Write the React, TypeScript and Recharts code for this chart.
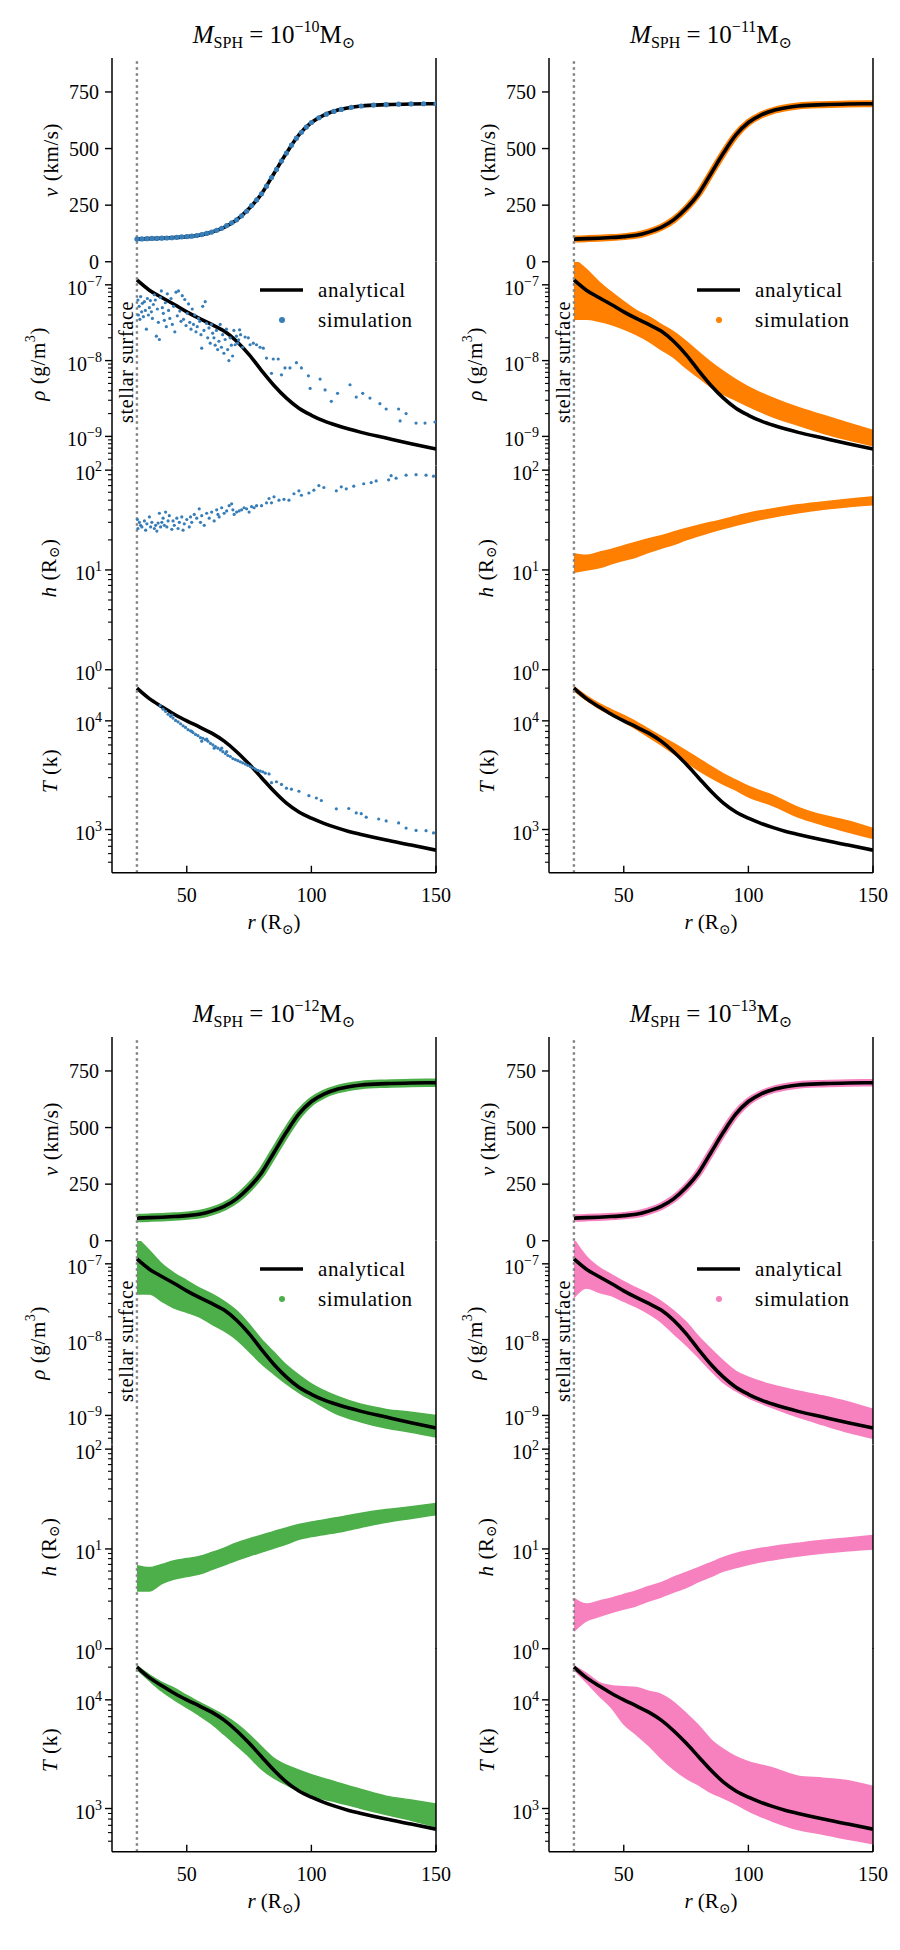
import React from 'react';
import { ComposedChart, Line, Area, Scatter, XAxis, YAxis, ReferenceLine } from 'recharts';

const FONT = "'Liberation Serif', 'DejaVu Serif', 'Times New Roman', serif";

// ---------- shared axis values ----------
const X_DOMAIN: [number, number] = [20, 150];
const X_TICKS = [50, 100, 150];
const R_SURFACE = 30;

const V_DOMAIN: [number, number] = [0, 900];
const V_TICKS = [0, 250, 500, 750];
const RHO_DOMAIN: [number, number] = [4.1e-10, 2e-7];
const RHO_TICKS = [5e-10, 6e-10, 7e-10, 8e-10, 9e-10, 1e-9, 2e-9, 3e-9, 4e-9, 5e-9, 6e-9, 7e-9, 8e-9, 9e-9,
  1e-8, 2e-8, 3e-8, 4e-8, 5e-8, 6e-8, 7e-8, 8e-8, 9e-8, 1e-7];
const H_DOMAIN: [number, number] = [1, 110];
const H_TICKS = [1, 2, 3, 4, 5, 6, 7, 8, 9, 10, 20, 30, 40, 50, 60, 70, 80, 90, 100];
const T_DOMAIN: [number, number] = [400, 3e4];
const T_TICKS = [500, 600, 700, 800, 900, 1000, 2000, 3000, 4000, 5000, 6000, 7000, 8000, 9000, 10000, 20000];

// ---------- analytical wind profile ----------
const R_ANA = [30, 35, 40, 45, 50, 55, 60, 65, 70, 75, 80, 85, 90, 95, 100, 105, 110, 115, 120, 130, 140, 150];
const V_ANA = [100, 102, 104, 107, 111, 117, 131, 152, 185, 235, 300, 390, 480, 560, 615, 648, 668, 680, 688, 694, 697, 698];
const RHO_ANA = [1.16e-7, 8.5e-8, 6.8e-8, 5.5e-8, 4.4e-8, 3.6e-8, 3.0e-8, 2.45e-8, 1.8e-8, 1.2e-8, 7.4e-9, 4.7e-9,
  3.2e-9, 2.35e-9, 1.9e-9, 1.6e-9, 1.4e-9, 1.25e-9, 1.13e-9, 9.5e-10, 8.0e-10, 6.8e-10];
const T_ANA = [20000, 16000, 13500, 11500, 10000, 8800, 7700, 6500, 5200, 4000, 3000, 2250, 1750, 1450, 1270, 1140,
  1040, 960, 900, 800, 720, 645];

// ---------- runs ----------
const MASS_EXP = [-10, -11, -12, -13];
const RUN_COLORS = ['#377eb8', '#ff7f00', '#4daf4a', '#f781bf'];
const LEGEND_LABELS = ['analytical', 'simulation'];

type Pair = [number, number];

// M_SPH = 1e-10: individual particles
const V_SIM_10: Pair[] = [
  [30, 100], [32, 101], [34, 102], [36, 103], [38, 103], [40, 104], [42, 105], [44, 106], [46, 108], [48, 110],
  [50, 111], [52, 113], [54, 116], [56, 120], [58, 125], [60, 131], [62, 139], [64, 148], [66, 160], [68, 172],
  [70, 185], [72, 203], [74, 223], [76, 248], [78, 273], [80, 300], [82, 334], [84, 372], [86, 408], [88, 445],
  [90, 480], [92, 515], [94, 546], [96, 572], [98, 595], [100, 615], [103, 636], [106, 652], [109, 664], [112, 673],
  [116, 682], [120, 688], [125, 692], [130, 694], [135, 696], [140, 697], [145, 698], [150, 698],
];
const RHO_SIM_10: Pair[] = [
  [30.4, 6.3e-8], [30.6, 4.0e-8], [30.9, 5.2e-8], [31.2, 3.5e-8], [31.5, 7.0e-8], [31.9, 4.4e-8], [32.2, 5.7e-8],
  [32.6, 3.8e-8], [33.0, 6.0e-8], [33.4, 4.6e-8], [33.8, 2.6e-8], [34.2, 6.6e-8], [34.6, 4.0e-8], [35.0, 5.0e-8],
  [35.4, 6.2e-8], [35.8, 4.4e-8], [36.2, 3.6e-8], [36.6, 5.5e-8], [37.0, 7.4e-8], [37.4, 6.3e-8], [37.8, 2.1e-8],
  [38.2, 4.8e-8], [38.6, 3.2e-8], [39.0, 1.9e-8], [39.4, 6.8e-8], [39.8, 8.3e-8], [40.2, 5.0e-8], [40.6, 4.2e-8],
  [41.0, 3.4e-8], [41.4, 5.8e-8], [41.8, 2.8e-8], [42.2, 7.6e-8], [42.7, 4.6e-8], [43.2, 3.6e-8], [43.7, 6.6e-8],
  [44.2, 3.0e-8], [44.7, 5.2e-8], [45.2, 2.4e-8], [45.7, 8.0e-8], [46.2, 3.9e-8], [46.7, 8.3e-8], [47.2, 4.5e-8],
  [47.7, 3.3e-8], [48.2, 7.2e-8], [48.7, 3.5e-8], [49.2, 6.4e-8], [49.7, 2.9e-8], [50.2, 4.2e-8], [50.7, 5.6e-8],
  [51.2, 3.2e-8], [51.7, 2.6e-8], [52.2, 4.8e-8], [52.7, 3.0e-8], [53.2, 4.0e-8], [53.7, 2.4e-8], [54.2, 2.8e-8],
  [54.7, 3.6e-8], [55.2, 3.3e-8], [55.7, 2.2e-8], [56.0, 1.46e-8], [56.4, 5.2e-8], [56.9, 2.5e-8], [57.4, 6.0e-8],
  [57.9, 3.1e-8], [58.4, 2.0e-8], [58.9, 2.7e-8], [59.4, 1.7e-8], [59.9, 3.0e-8], [60.4, 2.3e-8], [60.9, 2.0e-8],
  [61.4, 1.6e-8], [61.9, 2.5e-8], [62.4, 1.4e-8], [62.9, 1.8e-8], [63.4, 3.0e-8], [63.9, 1.5e-8], [64.4, 2.2e-8],
  [64.9, 1.25e-8], [65.4, 1.9e-8], [65.9, 2.6e-8], [66.4, 1.4e-8], [66.9, 1.0e-8], [67.4, 2.0e-8], [67.9, 1.6e-8],
  [68.4, 1.15e-8], [68.9, 2.5e-8], [69.4, 1.62e-8], [69.9, 2.1e-8], [70.4, 1.7e-8], [70.8, 1.88e-8], [71.2, 2.55e-8],
  [71.6, 2.2e-8], [72.4, 1.5e-8], [73.4, 2.05e-8], [74.7, 2.0e-8], [75.4, 1.62e-8], [76.7, 1.7e-8], [78.0, 1.62e-8],
  [79.4, 1.5e-8], [80.7, 1.46e-8], [82.0, 1.08e-8], [84.0, 6.8e-9], [84.7, 1.05e-8], [86.7, 1.05e-8], [88.0, 6.5e-9],
  [89.4, 8.0e-9], [91.4, 8.0e-9], [94.0, 9.4e-9], [96.0, 8.0e-9], [98.8, 6.3e-9], [99.5, 4.3e-9], [103.5, 5.7e-9],
  [105.5, 4.1e-9], [108.0, 2.9e-9], [110.5, 3.7e-9], [115.5, 4.8e-9], [118.0, 3.3e-9], [120.6, 3.7e-9],
  [123.5, 3.2e-9], [127.5, 2.7e-9], [130.0, 2.3e-9], [135.0, 2.3e-9], [135.6, 1.6e-9], [138.0, 2.0e-9],
  [142.0, 1.5e-9], [145.6, 1.5e-9], [149.6, 1.55e-9],
];
const H_SIM_10: Pair[] = [
  [30.2, 32], [30.4, 26], [31, 30], [31.5, 28], [32, 27], [33, 31], [33.5, 25], [34, 29], [35, 34], [35.5, 27],
  [36, 30], [37, 26], [37.5, 28], [38, 24.5], [38.5, 29.5], [39, 37], [39.5, 27], [40, 30], [40.5, 33], [41, 28],
  [41.5, 38], [42, 27], [42.5, 31], [43, 35], [44, 25.5], [44.5, 31], [45, 28], [46, 33], [46.5, 26], [47, 30],
  [48, 34], [48.5, 25], [49, 29], [50, 32], [51, 27], [51.5, 34], [52, 30], [53, 36], [54, 33], [55, 41],
  [55.5, 30], [56, 35], [57, 28], [58, 37], [59, 33], [60, 38], [61, 31], [62, 40], [62.5, 36], [63, 34],
  [64, 42], [65, 37], [66, 39], [67, 44], [68, 46], [68.5, 40], [69, 36], [70, 38], [71, 39], [72, 40],
  [73, 42], [74, 41], [75, 38], [76, 43], [77, 42], [78, 44], [80, 44], [82, 47], [83, 52], [84, 47],
  [85, 54], [87, 50], [89, 51], [91, 50], [93, 58], [95, 62], [96, 56], [99, 59], [101, 63], [103, 70],
  [105, 67], [110, 62], [112, 68], [114, 65], [117, 69], [121, 73], [124, 75], [126, 78], [131, 80], [132, 88],
  [134, 83], [138, 89], [142, 90], [146, 89], [149, 87],
];
const T_SIM_10: Pair[] = [
  [39.3, 13800], [40.5, 12800], [41.5, 12200], [42.5, 11500], [43.5, 11000], [44, 11300], [44.5, 10600],
  [45.5, 10100], [46.5, 9800], [47.5, 9400], [48.5, 9000], [49.5, 8700], [50.5, 8300], [51.5, 8100], [52, 8000],
  [52.5, 7800], [53.5, 7500], [54.5, 7300], [55.5, 7000], [56, 6500], [56.5, 6900], [57.5, 6700], [58, 6800],
  [58.5, 6500], [59.5, 6200], [60.5, 6000], [61, 5600], [61.5, 5800], [62.5, 5600], [63.5, 5400], [64, 5600],
  [64.5, 5200], [65.5, 5000], [66, 5200], [66.5, 4800], [67.5, 4700], [68.5, 4500], [69.5, 4400], [70.5, 4300],
  [71.5, 4200], [72.5, 4100], [73.5, 4000], [74.5, 3900], [75.5, 3800], [76.5, 3700], [77.5, 3600], [78.5, 3500],
  [79.5, 3450], [80.5, 3400], [81.5, 3300], [83, 3250], [84, 2700], [86, 2750], [88, 2600], [90, 2400],
  [92, 2350], [95, 2250], [99, 2050], [102, 1950], [104, 1850], [110, 1550], [115, 1560], [118, 1420],
  [120, 1400], [122, 1300], [127, 1250], [130, 1200], [135, 1150], [138, 1030], [142, 980], [146, 975], [149, 930],
];

// M_SPH = 1e-11 .. 1e-13: particle clouds, lower/upper envelope per radius
const R_BAND = [30, 35, 40, 45, 50, 55, 60, 65, 70, 75, 80, 85, 90, 95, 100, 110, 120, 130, 140, 150];

const RHO_BAND_11: Pair[] = [[3.5e-8, 2.2e-7], [3.5e-8, 1.6e-7], [3.3e-8, 1.1e-7], [3.0e-8, 8.0e-8], [2.6e-8, 6.0e-8],
  [2.2e-8, 4.6e-8], [1.8e-8, 3.8e-8], [1.4e-8, 3.0e-8], [1.1e-8, 2.4e-8], [8.0e-9, 1.8e-8], [6.0e-9, 1.3e-8],
  [4.5e-9, 9.5e-9], [3.6e-9, 7.2e-9], [3.0e-9, 5.6e-9], [2.5e-9, 4.5e-9], [1.8e-9, 3.2e-9], [1.4e-9, 2.4e-9],
  [1.1e-9, 1.9e-9], [9.0e-10, 1.5e-9], [7.5e-10, 1.2e-9]];
const H_BAND_11: Pair[] = [[9.5, 14.5], [10, 14], [10.5, 15], [11.5, 16], [12.5, 17.5], [13.5, 19], [15, 20.5],
  [16.5, 22], [18, 24], [20, 26], [22, 28], [24, 30], [26, 32], [28, 34.5], [30, 37], [34, 41], [37.5, 45],
  [40.5, 48], [43, 51], [45, 54]];
const T_BAND_11: Pair[] = [[19000, 20500], [15500, 17000], [13000, 14500], [11300, 12700], [9800, 11200],
  [8400, 9800], [7100, 8400], [6000, 7200], [5000, 6200], [4200, 5300], [3500, 4500], [3000, 3800], [2600, 3250],
  [2300, 2850], [2000, 2500], [1650, 2050], [1300, 1600], [1100, 1350], [950, 1200], [830, 1020]];

const RHO_BAND_12: Pair[] = [[4.0e-8, 2.2e-7], [4.0e-8, 1.5e-7], [3.2e-8, 1.0e-7], [2.6e-8, 7.5e-8], [2.3e-8, 6.0e-8],
  [2.0e-8, 4.8e-8], [1.6e-8, 4.0e-8], [1.3e-8, 3.2e-8], [1.0e-8, 2.4e-8], [7.0e-9, 1.6e-8], [4.8e-9, 1.0e-8],
  [3.5e-9, 6.8e-9], [2.6e-9, 4.6e-9], [2.0e-9, 3.4e-9], [1.6e-9, 2.6e-9], [1.05e-9, 1.8e-9], [8.2e-10, 1.4e-9],
  [6.8e-10, 1.2e-9], [6.0e-10, 1.1e-9], [5.2e-10, 1.0e-9]];
const H_BAND_12: Pair[] = [[3.8, 6.8], [3.8, 6.5], [4.5, 7.0], [5.0, 7.6], [5.3, 8.0], [5.6, 8.4], [6.2, 9.2],
  [6.9, 10.2], [7.7, 11.5], [8.5, 12.6], [9.3, 13.7], [10.2, 15.0], [11.2, 16.2], [12.5, 17.6], [13.3, 18.6],
  [14.6, 20.5], [16.5, 22.8], [18.5, 24.8], [20.2, 26.5], [22.0, 28.5]];
const T_BAND_12: Pair[] = [[19000, 20500], [15000, 17000], [12000, 14500], [10000, 12800], [8500, 11000],
  [7200, 9500], [6000, 8300], [4800, 7200], [3800, 6000], [3000, 4800], [2300, 3700], [1900, 2900], [1650, 2500],
  [1450, 2250], [1300, 2050], [1150, 1750], [1000, 1500], [880, 1300], [780, 1200], [680, 1100]];

const RHO_BAND_13: Pair[] = [[3.6e-8, 2.1e-7], [4.8e-8, 1.25e-7], [4.2e-8, 9.0e-8], [3.8e-8, 7.2e-8], [3.2e-8, 5.8e-8],
  [2.7e-8, 4.8e-8], [2.2e-8, 4.0e-8], [1.7e-8, 3.2e-8], [1.2e-8, 2.4e-8], [8.5e-9, 1.7e-8], [5.8e-9, 1.1e-8],
  [3.9e-9, 7.5e-9], [2.7e-9, 5.2e-9], [2.1e-9, 3.8e-9], [1.7e-9, 3.2e-9], [1.25e-9, 2.5e-9], [9.5e-10, 2.1e-9],
  [7.5e-10, 1.8e-9], [6.0e-10, 1.5e-9], [5.0e-10, 1.2e-9]];
const H_BAND_13: Pair[] = [[1.5, 3.2], [1.9, 2.8], [2.1, 3.0], [2.3, 3.2], [2.5, 3.5], [2.7, 3.8], [3.0, 4.2],
  [3.3, 4.6], [3.7, 5.2], [4.1, 5.8], [4.7, 6.5], [5.3, 7.3], [6.0, 8.2], [6.5, 9.0], [7.0, 9.6], [7.8, 10.6],
  [8.5, 11.4], [9.1, 12.2], [9.6, 12.9], [10.0, 13.6]];
const T_BAND_13: Pair[] = [[19000, 20500], [14500, 17500], [11000, 14500], [8500, 13500], [6000, 13200],
  [4800, 13000], [3800, 12000], [2900, 11200], [2300, 9500], [1900, 7500], [1650, 5800], [1400, 4300], [1250, 3500],
  [1100, 3000], [950, 2700], [760, 2350], [640, 1980], [580, 1900], [520, 1800], [475, 1590]];

// ---------- layout ----------
const PW = 324;
const PH = 203.75;
const YW = 112;
const MR = 22;
const COL_X = [112, 549];
const GROUP_Y = [58, 1037];

type Kind = 'v' | 'rho' | 'h' | 'T';
const KINDS: Kind[] = ['v', 'rho', 'h', 'T'];

const QTY: Record<Kind, { log: boolean; domain: [number, number]; ticks: number[]; labelDx: number }> = {
  v: { log: false, domain: V_DOMAIN, ticks: V_TICKS, labelDx: 61 },
  rho: { log: true, domain: RHO_DOMAIN, ticks: RHO_TICKS, labelDx: 74 },
  h: { log: true, domain: H_DOMAIN, ticks: H_TICKS, labelDx: 63 },
  T: { log: true, domain: T_DOMAIN, ticks: T_TICKS, labelDx: 62 },
};

const pts = (rs: number[], vals: number[]) => rs.map((r, i) => ({ r, val: vals[i] }));
const pairPts = (pairs: Pair[]) => pairs.map(([r, val]) => ({ r, val }));
const bandPts = (b: Pair[]) => R_BAND.map((r, i) => ({ r, band: b[i] }));

const sup = (n: number) => (n < 0 ? '\u2212' + Math.abs(n) : String(n));

interface RunData {
  dots?: Partial<Record<Kind, Pair[]>>;
  bands?: Partial<Record<Kind, Pair[]>>;
  vWidth: number;
}
const RUNS: RunData[] = [
  { dots: { v: V_SIM_10, rho: RHO_SIM_10, h: H_SIM_10, T: T_SIM_10 }, vWidth: 0 },
  { bands: { rho: RHO_BAND_11, h: H_BAND_11, T: T_BAND_11 }, vWidth: 7 },
  { bands: { rho: RHO_BAND_12, h: H_BAND_12, T: T_BAND_12 }, vWidth: 8.5 },
  { bands: { rho: RHO_BAND_13, h: H_BAND_13, T: T_BAND_13 }, vWidth: 7.5 },
];

const ANA: Record<Kind, number[]> = { v: V_ANA, rho: RHO_ANA, h: [], T: T_ANA };

const AXIS = { stroke: '#000', strokeWidth: 1.5 };
const TXT = { fontFamily: FONT };

function makeYTick(log: boolean) {
  return (p: any) => {
    const { x, y, payload } = p;
    const v = payload.value as number;
    if (!log) {
      return (
        <g>
          <line x1={x - 7} x2={x} y1={y} y2={y} stroke="#000" strokeWidth={1.4} />
          <text x={x - 13} y={y + 7} textAnchor="end" fontSize={20} style={TXT} fill="#000">{v}</text>
        </g>
      );
    }
    const lg = Math.log10(v);
    const e = Math.round(lg);
    const major = Math.abs(lg - e) < 1e-6;
    return (
      <g>
        <line x1={x - (major ? 7 : 4)} x2={x} y1={y} y2={y} stroke="#000" strokeWidth={major ? 1.4 : 1.1} />
        {major && (
          <text x={x - 10} y={y + 10} textAnchor="end" fontSize={20} style={TXT} fill="#000">
            10<tspan dy={-9} fontSize={14}>{sup(e)}</tspan>
          </text>
        )}
      </g>
    );
  };
}

function makeBottomTick(showLabel: boolean) {
  return (p: any) => {
    const { x, y, payload } = p;
    return (
      <g>
        <line x1={x} x2={x} y1={y} y2={y - 7} stroke="#000" strokeWidth={1.4} />
        {showLabel && (
          <text x={x} y={y + 29} textAnchor="middle" fontSize={20} style={TXT} fill="#000">{payload.value}</text>
        )}
      </g>
    );
  };
}
const topTick = (p: any) => <line x1={p.x} x2={p.x} y1={p.y} y2={p.y + 7} stroke="#000" strokeWidth={1.4} />;

function YLabel({ kind, x, y }: { kind: Kind; x: number; y: number }) {
  const common = {
    x, y, textAnchor: 'middle' as const, dominantBaseline: 'central' as const,
    transform: `rotate(-90 ${x} ${y})`, fontSize: 21, style: TXT, fill: '#000', letterSpacing: 0.6,
  };
  if (kind === 'v')
    return <text {...common}><tspan fontStyle="italic">v</tspan> (km/s)</text>;
  if (kind === 'rho')
    return (
      <text {...common}>
        <tspan fontStyle="italic">ρ</tspan> (g/m<tspan dy={-8} fontSize={14}>3</tspan><tspan dy={8}>)</tspan>
      </text>
    );
  if (kind === 'h')
    return (
      <text {...common}>
        <tspan fontStyle="italic">h</tspan> (R<tspan dy={5} fontSize={14}>⊙</tspan><tspan dy={-5}>)</tspan>
      </text>
    );
  return <text {...common}><tspan fontStyle="italic">T</tspan> (k)</text>;
}

function Panel({ run, kind, left, top }: { run: number; kind: Kind; left: number; top: number }) {
  const q = QTY[kind];
  const spec = RUNS[run];
  const color = RUN_COLORS[run];
  const first = kind === 'v';
  const last = kind === 'T';
  const mt = first ? 50 : 14;
  const xh = last ? 72 : 0;
  const mb = last ? 0 : 14;
  const width = YW + PW + MR;
  const height = mt + PH + xh + mb;
  const dots = spec.dots?.[kind];
  const band = spec.bands?.[kind];
  const ana = ANA[kind];
  const surfX = YW + ((R_SURFACE - X_DOMAIN[0]) / (X_DOMAIN[1] - X_DOMAIN[0])) * PW;

  return (
    <div style={{ position: 'absolute', left: left - YW, top: top - mt }}>
      <ComposedChart width={width} height={height} margin={{ top: mt, right: MR, bottom: mb, left: 0 }}>
        <XAxis dataKey="r" type="number" domain={X_DOMAIN} ticks={X_TICKS} allowDataOverflow orientation="bottom"
          height={xh} tickSize={0} tickMargin={0} tickLine={false} axisLine={AXIS} interval={0}
          tick={makeBottomTick(last)} />
        <XAxis xAxisId="top" dataKey="r" type="number" domain={X_DOMAIN} ticks={X_TICKS} allowDataOverflow
          orientation="top" height={0} tickSize={0} tickMargin={0} tickLine={false} axisLine={AXIS} interval={0}
          tick={topTick} />
        <YAxis type="number" scale={q.log ? 'log' : 'linear'} domain={q.domain} ticks={q.ticks} allowDataOverflow
          width={YW} tickSize={0} tickMargin={0} tickLine={false} axisLine={AXIS} interval={0}
          tick={makeYTick(q.log)} />

        {band && (
          <Area data={bandPts(band)} dataKey="band" type="monotone" fill={color} fillOpacity={1} stroke={color}
            strokeWidth={1.5} dot={false} activeDot={false} isAnimationActive={false} />
        )}
        {dots && (
          <Scatter data={pairPts(dots)} dataKey="val" isAnimationActive={false}
            shape={(p: any) => <circle cx={p.cx} cy={p.cy} r={kind === 'v' ? 2.6 : 1.6} fill={color} />} />
        )}
        {kind === 'v' && spec.vWidth > 0 && (
          <Line data={pts(R_ANA, V_ANA)} dataKey="val" type="monotone" stroke={color} strokeWidth={spec.vWidth}
            dot={false} activeDot={false} isAnimationActive={false} />
        )}
        {ana.length > 0 && (
          <Line data={pts(R_ANA, ana)} dataKey="val" type="monotone" stroke="#000" strokeWidth={3.6}
            dot={false} activeDot={false} isAnimationActive={false} />
        )}

        <ReferenceLine x={R_SURFACE} stroke="#808080" strokeWidth={2.4} strokeDasharray="2.4 3.6" />
        <ReferenceLine x={X_DOMAIN[1]} stroke="#000" strokeWidth={1.5} />

        <YLabel kind={kind} x={YW - q.labelDx} y={mt + PH / 2} />

        {first && (
          <text x={YW + PW / 2} y={mt - 15} textAnchor="middle" fontSize={25} style={TXT} fill="#000">
            <tspan fontStyle="italic">M</tspan>
            <tspan dy={5} fontSize={16}>SPH</tspan>
            <tspan dy={-5}> = 10</tspan>
            <tspan dy={-11} fontSize={16}>{sup(MASS_EXP[run])}</tspan>
            <tspan dy={11}>M</tspan>
            <tspan dy={5} fontSize={16}>⊙</tspan>
          </text>
        )}

        {kind === 'rho' && (
          <g>
            <text x={surfX - 4} y={mt + 100} textAnchor="middle" transform={`rotate(-90 ${surfX - 4} ${mt + 100})`}
              fontSize={20} style={TXT} fill="#000" letterSpacing={0.7}>stellar surface</text>
            <line x1={YW + 148} x2={YW + 191} y1={mt + 28} y2={mt + 28} stroke="#000" strokeWidth={3.6} />
            <text x={YW + 206} y={mt + 35} fontSize={21} style={TXT} fill="#000" letterSpacing={0.6}>
              {LEGEND_LABELS[0]}
            </text>
            <circle cx={YW + 170} cy={mt + 58} r={3} fill={color} />
            <text x={YW + 206} y={mt + 65} fontSize={21} style={TXT} fill="#000" letterSpacing={0.6}>
              {LEGEND_LABELS[1]}
            </text>
          </g>
        )}

        {last && (
          <text x={YW + PW / 2} y={mt + PH + 56} textAnchor="middle" fontSize={21} style={TXT} fill="#000">
            <tspan fontStyle="italic">r</tspan> (R<tspan dy={5} fontSize={14}>⊙</tspan><tspan dy={-5}>)</tspan>
          </text>
        )}
      </ComposedChart>
    </div>
  );
}

export default function App() {
  return (
    <div style={{ position: 'absolute', left: 0, top: 0, width: 900, height: 1950, background: '#fff', fontFamily: FONT }}>
      {MASS_EXP.map((_, run) =>
        KINDS.map((kind, k) => (
          <Panel key={`${run}-${kind}`} run={run} kind={kind} left={COL_X[run % 2]}
            top={GROUP_Y[Math.floor(run / 2)] + k * PH} />
        ))
      )}
    </div>
  );
}
